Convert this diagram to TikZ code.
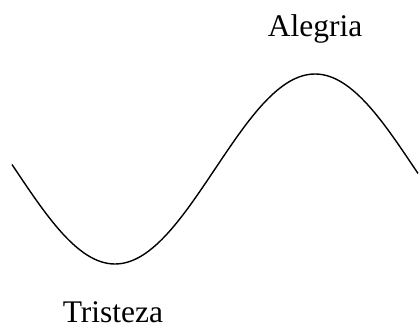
\documentclass[tikz,border=0pt]{standalone}
\usepackage{fontspec}
\setmainfont{Liberation Serif}
\begin{document}
\begin{tikzpicture}[x=1pt,y=-1pt,line width=1.4pt]
\useasboundingbox (0,0) rectangle (419,331);
\draw[domain=12:418,samples=120,smooth] plot (\x,{169+95*cos(0.9*(\x-115))});
\node[anchor=base,inner sep=0pt] (alegria) at (315,37) {\fontsize{31.5}{37}\selectfont Alegria};
\node[anchor=base,inner sep=0pt] (tristeza) at (113,322) {\fontsize{31.5}{37}\selectfont Tristeza};
\end{tikzpicture}
\end{document}
